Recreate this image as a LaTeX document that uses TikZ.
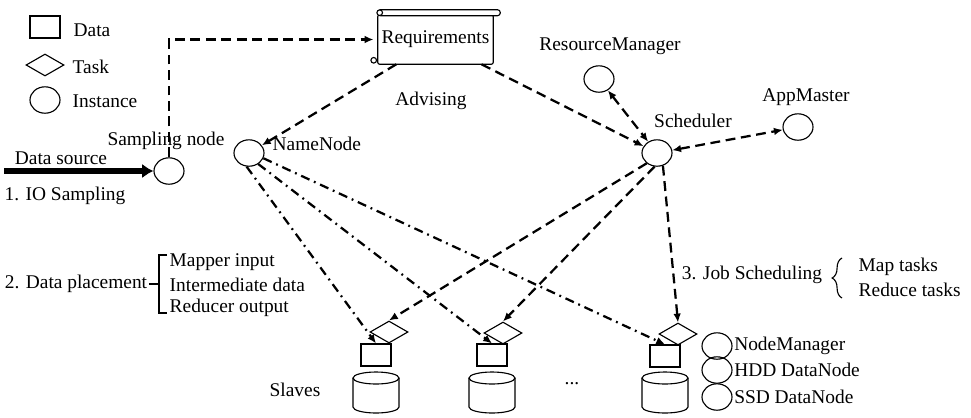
\documentclass[tikz,border=0pt]{standalone}
\usepackage{fontspec}
\setmainfont{Liberation Serif}
\usetikzlibrary{arrows.meta,positioning,shapes.geometric,decorations.pathreplacing,calc}
\tikzset{
  >=Latex,
  instance/.style={ellipse, draw, line width=0.8pt, minimum width=0.75cm, minimum height=0.66cm, inner sep=0pt},
  task/.style={diamond, draw, line width=0.8pt, minimum width=0.95cm, minimum height=0.55cm, inner sep=0pt, fill=white},
  datablock/.style={rectangle, draw, line width=0.8pt, minimum width=0.75cm, minimum height=0.55cm, inner sep=0pt},
  txt/.style={inner sep=1pt},
  flow/.style={-{Latex[length=2.2mm,width=1.9mm]}, line width=1.6pt, dash pattern=on 7pt off 4pt},
  twoway/.style={{Latex[length=2.2mm,width=1.9mm]}-{Latex[length=2.2mm,width=1.9mm]}, line width=1.6pt, dash pattern=on 7pt off 4pt},
  place/.style={-{Latex[length=2.2mm,width=1.9mm]}, line width=1.6pt, dash pattern=on 6.5pt off 3.5pt on 1.3pt off 3.5pt},
  feed/.style={-{Latex[length=2.8mm,width=3.6mm]}, line width=3.8pt},
  thin/.style={line width=0.8pt}
}
% storage disk of a slave, #1 = name, #2 = centre
\newcommand{\slavedisk}[2]{
  \coordinate (#1) at (#2);
  \draw[thin] ($(#1)+(-23,-14)$) -- ($(#1)+(-23,15)$)
    arc[start angle=180, end angle=360, x radius=0.575cm, y radius=0.15cm] -- ($(#1)+(23,-14)$);
  \draw[thin] ($(#1)+(0,-14)$) ellipse [x radius=0.575cm, y radius=0.15cm];
}

\begin{document}
\begin{tikzpicture}[x=0.025cm, y=-0.025cm, font=\fontsize{13.8}{16}\selectfont]
\useasboundingbox (0,0) rectangle (971,417);

% legend
\node[datablock] (legdata) at (45,27) {};
\node[task] (legtask) at (45,65) {};
\node[instance] (leginst) at (45,100) {};
\node[txt, anchor=west] (legdatatext) at (72,30) {Data};
\node[txt, anchor=west] (legtasktext) at (71,67) {Task};
\node[txt, anchor=west] (leginsttext) at (71,101) {Instance};

% sampling
\node[instance] (sn) at (169,171) {};
\node[txt] (snlabel) at (166,141) {Sampling node};
\coordinate (src) at (4,171);
\draw[feed] (src) -- (sn);
\node[txt] (srclabel) at (61,158) {Data source};
\node[txt] (step1) at (65,196) {1. IO Sampling};

% requirements scroll
\node[minimum width=2.875cm, minimum height=1.225cm, inner sep=0pt] (req) at (435.5,39.5) {Requirements};
\draw[thin, rounded corners=1.5pt] (req.south west) rectangle (req.north east);
\draw[thin, fill=white, rounded corners=2pt] ($(req.north west)+(0,-5)$) rectangle ($(req.north east)+(7,1)$);
\draw[thin, fill=white] ($(req.north west)+(2,-2)$) circle (0.07cm);
\draw[thin, fill=white] ($(req.south west)+(-4,-4)$) circle (0.07cm);
\node[txt] (advise) at (431,101) {Advising};

% instances
\node[instance] (nn) at (249,153) {};
\node[txt, anchor=west] (nnlabel) at (271,144) {NameNode};
\node[instance] (sched) at (657,153) {};
\node[txt] (schedlabel) at (693,121) {Scheduler};
\node[instance] (rm) at (599,79) {};
\node[txt] (rmlabel) at (610,46) {ResourceManager};
\node[instance] (am) at (798,127) {};
\node[txt] (amlabel) at (806,97) {AppMaster};

\draw[flow] (sn.north) |- ([xshift=-3pt]req.west);
\draw[flow] ([xshift=-0.98cm]req.south) -- (nn);
\draw[flow] ([xshift=1.15cm]req.south) -- (sched);
\draw[twoway] (rm) -- (sched);
\draw[twoway] (sched) -- (am);

% slaves
\node[datablock] (d1) at (376,355) {};
\node[task] (t1) at (389,332) {};
\slavedisk{s1}{376,392}
\node[datablock] (d2) at (492,355) {};
\node[task] (t2) at (503,333) {};
\slavedisk{s2}{492,392}
\node[datablock] (d3) at (665,356) {};
\node[task] (t3) at (678,334) {};
\slavedisk{s3}{665,392}
\node[txt] (slaves) at (295,390) {Slaves};
\node[txt] (more) at (572,384) {...};

\draw[flow] (sched.-135) -- (t1.north);
\draw[flow] (sched.-100) -- (t2.north);
\draw[flow] (sched.-65) -- (t3.north);
\draw[place] (nn.-100) -- (d1.north);
\draw[place] (nn.-50) -- (d2.north);
\draw[place] (nn.-20) -- (d3.north);

% node roles
\node[instance] (nmleg) at (717,346) {};
\node[instance] (hddleg) at (717,370) {};
\node[instance] (ssdleg) at (717,397) {};
\node[txt, right=0pt of nmleg] (nmtext) {NodeManager};
\node[txt, right=0pt of hddleg] (hddtext) {HDD DataNode};
\node[txt, right=0pt of ssdleg] (ssdtext) {SSD DataNode};

% data placement
\node[txt] (step2) at (76,284) {2. Data placement};
\node[txt, anchor=west] (mapin) at (168,262) {Mapper input};
\node[txt, anchor=west] (interm) at (168,285) {Intermediate data};
\node[txt, anchor=west] (redout) at (168,308) {Reducer output};
\draw[thin] (step2.east) -- (159,284);
\draw[thin] (167,255) -| (159,313) -- (167,313);

% job scheduling
\node[txt] (step3) at (752,275) {3. Job Scheduling};
\draw[thin, decorate, decoration={brace, amplitude=7pt}] (842,298) -- (842,258);
\node[txt, anchor=west] (maptask) at (857,267) {Map tasks};
\node[txt, anchor=west] (redtask) at (857,290) {Reduce tasks};
\end{tikzpicture}
\end{document}
